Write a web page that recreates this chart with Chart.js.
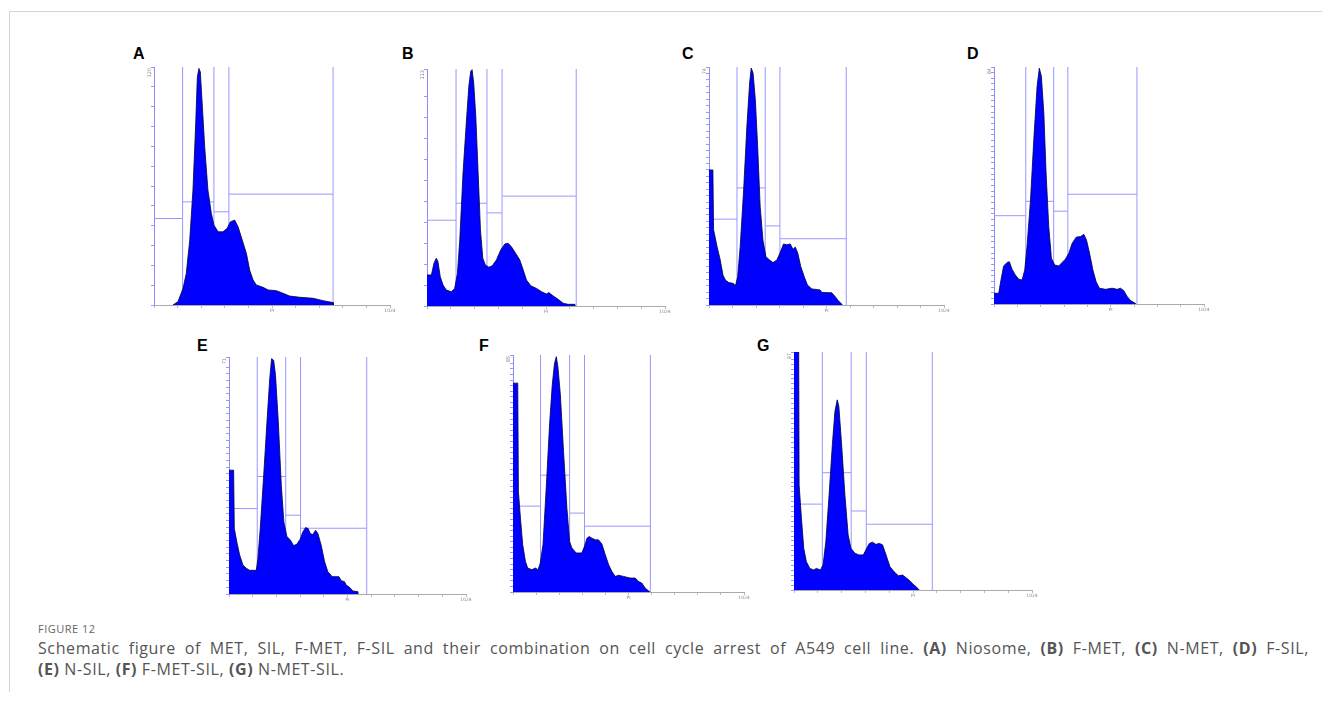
<!DOCTYPE html>
<html>
<head>
<meta charset="utf-8">
<script src="https://cdn.jsdelivr.net/npm/chart.js@4.4.1/dist/chart.umd.min.js"></script>
<style>
  body { margin: 0; width: 1322px; height: 706px; background: #fff; position: relative; overflow: hidden; }
  #frame { position: absolute; left: 9px; top: 11px; width: 1400px; height: 680px;
           border-left: 1px solid #d4d4d4; border-top: 1px solid #d4d4d4; }
  canvas { position: absolute; }
  .letter { position: absolute; font: bold 16px "Liberation Sans", Arial, sans-serif; color: #000; line-height: 16px; }
  #fig { position: absolute; left: 38px; top: 621px; font: 11px "Open Sans", sans-serif; color: #666; letter-spacing: 0.5px; }
  .cap { position: absolute; left: 38px; width: 1271px; font: 16px/20px "Open Sans", sans-serif; color: #555; letter-spacing: 0.6px; white-space: nowrap; }
  #cap1 { top: 638px; text-align: justify; text-align-last: justify; white-space: normal; }
  #cap2 { top: 659px; }
  .cap b { color: #555; }
</style>
</head>
<body>
<div id="frame"></div>
<div id="fig">FIGURE 12</div>
<div class="cap" id="cap1">Schematic figure of MET, SIL, F-MET, F-SIL and their combination on cell cycle arrest of A549 cell line. <b>(A)</b> Niosome, <b>(B)</b> F-MET, <b>(C)</b> N-MET, <b>(D)</b> F-SIL,</div>
<div class="cap" id="cap2"><b>(E)</b> N-SIL, <b>(F)</b> F-MET-SIL, <b>(G)</b> N-MET-SIL.</div>

<script>
const letters = ['A', 'B', 'C', 'D', 'E', 'F', 'G'];
const yMax = [120, 113, 74, 84, 71, 85, 97];
const yStep = [10, 10, 2, 2, 2, 2, 2];
const xIntervals = [10, 10, 10, 9, 10, 10, 10];
const xLabelPI = 'PI';
const xLabelEnd = '1024';

// histogram channels / counts, one pair per panel
const chanA = [82, 104, 126, 140, 155, 169, 181, 188, 195, 201, 210, 220, 234, 249, 260, 278, 299, 317, 331, 350, 365, 383, 401, 415, 430, 444, 473, 495, 531, 560, 589, 632, 690, 733, 777, 778];
const countA = [0, 1.7, 8.4, 15.9, 32.7, 57.9, 91.4, 114.9, 119.3, 117.5, 99.8, 79.7, 57.9, 46.1, 40.3, 36.9, 36.9, 38.6, 41.9, 42.8, 39.4, 32.7, 26, 17.6, 12.6, 10.1, 8.9, 7.6, 7.2, 5.9, 4.5, 3.9, 3.4, 2.2, 1.2, 0];

const chanB = [0, 19, 30, 40, 47, 57, 69, 83, 105, 119, 131, 141, 155, 169, 180, 188, 194, 201, 210, 220, 230, 240, 251, 266, 280, 299, 317, 335, 349, 363, 381, 399, 414, 428, 447, 471, 493, 514, 524, 543, 564, 586, 607, 636, 638];
const countB = [14.8, 14.8, 20.4, 22.8, 21.2, 14, 10, 7.6, 6.8, 8.4, 15.6, 31.5, 63.4, 87.2, 104.8, 111.9, 112.7, 106.3, 90.4, 63.4, 36.3, 22.8, 19.6, 18.5, 19.1, 22, 26.7, 29.6, 29.9, 28.3, 25.2, 22, 17.2, 12.4, 9.6, 8.4, 6.8, 5.7, 6.4, 4.8, 3.2, 1.3, 0.8, 0.8, 0];

const chanC = [0, 17, 20, 35, 49, 61, 71, 86, 107, 115, 125, 136, 151, 165, 177, 184, 192, 202, 212, 223, 235, 248, 264, 279, 296, 310, 325, 339, 354, 366, 376, 387, 400, 415, 429, 448, 484, 492, 535, 550, 564, 579, 582];
const countC = [42, 42, 23.4, 18.2, 14, 9.3, 7.8, 7, 6.7, 5.9, 8.8, 18.2, 35.8, 55.5, 69, 73.7, 72.1, 63.8, 49.3, 30.6, 20.2, 15, 14, 13.2, 14, 16.3, 19, 18.7, 19, 17.3, 18, 16.1, 11.9, 8.8, 6.2, 5, 4.7, 3.9, 3.8, 2.6, 1.3, 0.2, 0];

const chanD = [0, 23, 34, 47, 64, 75, 88, 104, 121, 137, 150, 161, 178, 194, 210, 221, 231, 243, 254, 267, 280, 296, 316, 332, 348, 365, 381, 401, 422, 438, 451, 466, 482, 498, 514, 544, 576, 601, 617, 633, 650, 666, 690, 694];
const countD = [3.8, 3.8, 8.5, 13.5, 14.7, 15, 12.3, 10.3, 8.8, 8.5, 12.1, 20.3, 36.9, 58.2, 77.1, 83.6, 80.7, 67.7, 46.4, 27.4, 16.2, 13.8, 13.5, 14.7, 15.9, 18, 21.5, 23.7, 23.9, 24.7, 22.7, 18, 12.1, 7.9, 5.6, 5.2, 5.6, 5.2, 5.6, 4.7, 2.6, 1.2, 0.2, 0];

const chanE = [0, 20, 23, 35, 46, 60, 75, 89, 118, 125, 135, 150, 164, 176, 184, 193, 201, 213, 226, 237, 250, 265, 279, 293, 308, 319, 331, 342, 351, 362, 374, 384, 398, 413, 427, 446, 475, 485, 499, 506, 521, 535, 557, 558];
const countE = [37.1, 37.1, 19.6, 15.2, 11.7, 8.7, 7.7, 7.1, 7.1, 10.7, 19.6, 35.6, 51.6, 64.5, 70.5, 70, 65.5, 51.6, 32.6, 21.6, 17.2, 16.2, 14.5, 14.9, 16.5, 18.6, 19.9, 19.6, 18.1, 17.8, 19.1, 18.1, 14.7, 9.7, 6.7, 5.2, 5.2, 4, 3.7, 2.7, 2, 0.9, 0.7, 0];

const chanF = [0, 21, 24, 33, 43, 55, 65, 84, 99, 111, 121, 133, 148, 162, 174, 184, 192, 199, 210, 224, 239, 251, 261, 280, 305, 317, 328, 338, 350, 365, 379, 394, 409, 424, 438, 453, 468, 490, 519, 542, 556, 571, 586, 604, 605];
const countF = [74.9, 74.9, 36.1, 26.5, 17, 11, 8.6, 8, 8.6, 8, 10.4, 17, 38.4, 59.9, 74.3, 82, 84.4, 80.8, 70.7, 50.4, 30.1, 18.1, 15.8, 14, 14, 16.4, 19.3, 19.9, 19.3, 18.7, 18.7, 17.2, 13.4, 9.8, 7.4, 5.6, 6, 5.6, 5, 5, 3.8, 3.2, 1.4, 0.2, 0];

const chanG = [0, 20, 22, 32, 42, 53, 68, 85, 96, 114, 125, 137, 151, 165, 176, 186, 193, 204, 219, 233, 245, 262, 280, 298, 309, 324, 338, 352, 367, 381, 396, 413, 430, 449, 467, 485, 499, 513, 528, 539];
const countG = [104, 104, 42.9, 29.2, 17, 11.6, 8.8, 8.2, 8.8, 8.2, 10.2, 19.7, 38.8, 59.2, 72.8, 77.5, 74.8, 60.5, 38.8, 22.4, 17, 15, 14.3, 14.3, 16.3, 19, 19.5, 18.6, 19, 18.4, 14.3, 9.5, 7.5, 5.8, 6.1, 4.8, 3.7, 2.3, 1.1, 0];

// gate markers (channel) and gate levels (count) per region
const gatesA = [124, 260, 325, 777], levelsA = [43.6, 52.0, 47.0, 55.9];
const gatesB = [125, 258, 323, 642], levelsB = [40.9, 49.0, 44.4, 52.4];
const gatesC = [122, 245, 309, 598], levelsC = [26.7, 36.4, 24.6, 20.6];
const gatesD = [155, 291, 360, 697], levelsD = [31.3, 36.4, 32.9, 38.9];
const gatesE = [122, 245, 309, 595], levelsE = [25.6, 35.2, 23.6, 19.7];
const gatesF = [122, 251, 317, 609], levelsF = [30.8, 41.9, 28.3, 23.6];
const gatesG = [122, 246, 311, 595], levelsG = [35.0, 47.8, 32.2, 26.8];

const chans = [chanA, chanB, chanC, chanD, chanE, chanF, chanG];
const counts = [countA, countB, countC, countD, countE, countF, countG];
const gates = [gatesA, gatesB, gatesC, gatesD, gatesE, gatesF, gatesG];
const levels = [levelsA, levelsB, levelsC, levelsD, levelsE, levelsF, levelsG];

// plot boxes on the page: left, top, width, height
const boxes = [
  [154, 67, 236, 238], [427, 69, 238, 237], [709, 67, 235, 238], [994, 67, 210, 237],
  [229, 357, 237, 237], [513, 355, 231, 237], [794, 352, 238, 238]
];
const letterPos = [[133, 46], [402, 46], [682, 46], [967, 46], [197, 338], [479, 338], [757, 338]];

const GATE = '#9898ff';
const PAD = { left: 6, top: 4, right: 9, bottom: 2 };
const Y_W = 4, X_H = 10;

const maxLabel = {
  id: 'maxLabel',
  afterDraw(chart, args, opts) {
    const { ctx, chartArea } = chart;
    ctx.save();
    ctx.translate(chartArea.left - 2, chartArea.top + 1);
    ctx.rotate(-Math.PI / 2);
    ctx.font = '5px "DejaVu Sans"';
    ctx.fillStyle = '#888';
    ctx.textAlign = 'right';
    ctx.textBaseline = 'bottom';
    ctx.fillText(opts.text, 0, 0);
    ctx.restore();
  }
};

letters.forEach((letter, i) => {
  const [L, T, W, H] = boxes[i];
  const cv = document.createElement('canvas');
  cv.width = PAD.left + Y_W + W + PAD.right;
  cv.height = PAD.top + H + X_H + PAD.bottom;
  cv.style.left = (L - PAD.left - Y_W) + 'px';
  cv.style.top = (T - PAD.top) + 'px';
  document.body.appendChild(cv);

  const lt = document.createElement('div');
  lt.className = 'letter';
  lt.textContent = letter;
  lt.style.left = letterPos[i][0] + 'px';
  lt.style.top = letterPos[i][1] + 'px';
  document.body.appendChild(lt);

  const n = xIntervals[i];
  const xTicks = Array.from({ length: n + 1 }, (_, k) => k * 1024 / n);

  const datasets = [{
    data: chans[i].map((c, k) => ({ x: c, y: counts[i][k] })),
    borderColor: '#00003a',
    borderWidth: 0.8,
    backgroundColor: '#0000ff',
    fill: 'origin',
    pointRadius: 0,
    tension: 0
  }];
  const edges = [0].concat(gates[i]);
  gates[i].forEach(g => {
    datasets.push({ data: [{ x: g, y: 0 }, { x: g, y: yMax[i] }], borderColor: GATE, borderWidth: 1, pointRadius: 0, fill: false });
  });
  levels[i].forEach((lv, k) => {
    datasets.push({ data: [{ x: edges[k], y: lv }, { x: edges[k + 1], y: lv }], borderColor: GATE, borderWidth: 1, pointRadius: 0, fill: false });
  });

  new Chart(cv, {
    type: 'line',
    data: { datasets },
    options: {
      responsive: false,
      animation: false,
      events: [],
      layout: { padding: PAD },
      plugins: { legend: { display: false }, tooltip: { enabled: false }, maxLabel: { text: String(yMax[i]) } },
      scales: {
        x: {
          type: 'linear', min: 0, max: 1024,
          afterBuildTicks: s => { s.ticks = xTicks.map(v => ({ value: v })); },
          afterFit: s => { s.height = X_H; },
          ticks: {
            autoSkip: false, maxRotation: 0, padding: 0,
            font: { size: 4.5, family: 'DejaVu Sans' }, color: '#888',
            callback: (v, k) => k === 5 ? xLabelPI : (k === n ? xLabelEnd : '')
          },
          grid: { drawOnChartArea: false, tickLength: 3, color: '#bbb' },
          border: { color: '#aaa' }
        },
        y: {
          min: 0, max: yMax[i],
          afterFit: s => { s.width = Y_W; },
          ticks: { display: false, stepSize: yStep[i] },
          grid: { drawOnChartArea: false, tickLength: 3, color: GATE },
          border: { color: '#8c8cff' }
        }
      }
    },
    plugins: [maxLabel]
  });
});
</script>
</body>
</html>
